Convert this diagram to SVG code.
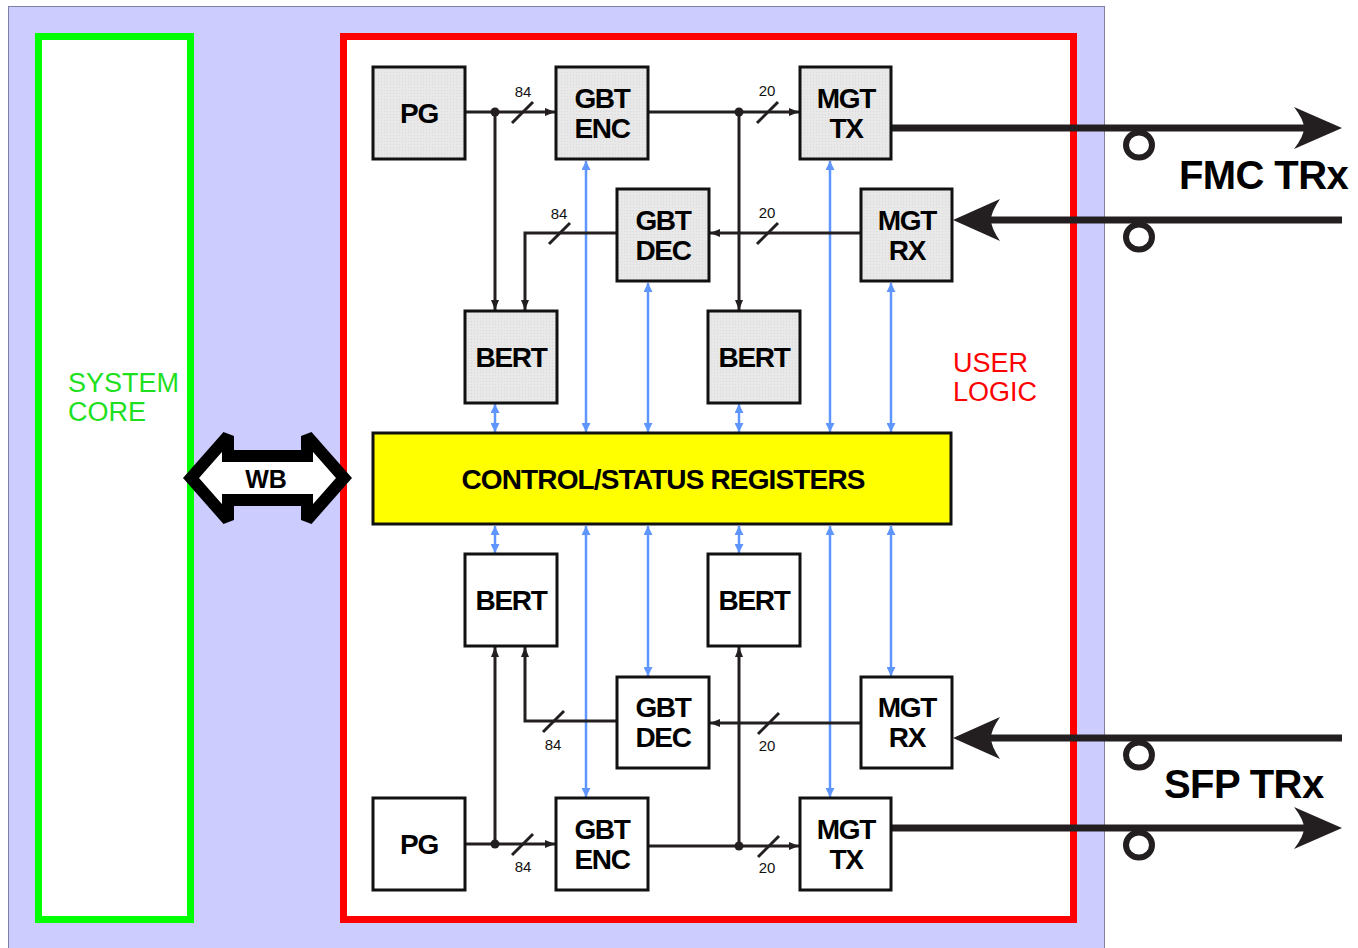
<svg xmlns="http://www.w3.org/2000/svg" width="1358" height="948" viewBox="0 0 1358 948">
<style>
text{font-family:"Liberation Sans",Arial,sans-serif}
.box{stroke:#111;stroke-width:3}
.g{fill:url(#dots)}
.w{fill:#fff}
.lbl{font-size:28px;font-weight:bold;letter-spacing:-1.3px;text-anchor:middle;fill:#000}
.num{font-size:15px;text-anchor:middle;fill:#111}
.ln{stroke:#231f20;stroke-width:3;fill:none}
.sl{stroke:#231f20;stroke-width:3}
.bl{stroke:#5f95ff;stroke-width:2.5;fill:none}
.big{stroke:#231f20;stroke-width:7;fill:none}
.head{fill:#231f20}
.ring{fill:none;stroke:#231f20;stroke-width:6}
.trx{font-size:40px;font-weight:bold;letter-spacing:-0.6px;fill:#000}
</style>
<defs>
<pattern id="dots" width="3" height="3" patternUnits="userSpaceOnUse">
<rect width="3" height="3" fill="#e8e8e8"/>
<rect width="1" height="1" fill="#dadada"/>
</pattern>
<marker id="ah" viewBox="0 0 10 8" refX="10" refY="4" markerWidth="10" markerHeight="8" markerUnits="userSpaceOnUse" orient="auto">
<path d="M0,0 L10,4 L0,8 z" fill="#231f20"/>
</marker>
<marker id="bh" viewBox="0 0 9 9" refX="9" refY="4.5" markerWidth="9" markerHeight="9" markerUnits="userSpaceOnUse" orient="auto-start-reverse">
<path d="M0,0 L9,4.5 L0,9 z" fill="#5f95ff"/>
</marker>
</defs>

<rect x="8.5" y="6.5" width="1096" height="950" fill="#ccccff" stroke="#8080a0" stroke-width="1"/>

<g id="system-core">
<rect x="38.5" y="36.5" width="152" height="883" fill="#fff" stroke="#00ff00" stroke-width="7"/>
<text x="68" y="392" font-size="27" fill="#1ee01e">SYSTEM</text>
<text x="68" y="421" font-size="27" fill="#1ee01e">CORE</text>
</g>

<g id="user-logic">
<rect x="343.5" y="36.5" width="730" height="883" fill="#fff" stroke="#ff0000" stroke-width="7"/>
<text x="953" y="372" font-size="27" fill="#ff0000">USER</text>
<text x="953" y="401" font-size="27" fill="#ff0000">LOGIC</text>
</g>

<g id="wb">
<polygon points="191,478 228,436 228,456 307,456 307,436 344,478 307,520 307,500 228,500 228,520" fill="#fff" stroke="#000" stroke-width="12" stroke-linejoin="miter" stroke-miterlimit="2"/>
<text x="266" y="488" font-size="25" font-weight="bold" text-anchor="middle" fill="#000">WB</text>
</g>

<g id="connectors">
<line class="bl" x1="495" y1="404" x2="495" y2="432" marker-start="url(#bh)" marker-end="url(#bh)"/>
<line class="bl" x1="586" y1="161" x2="586" y2="432" marker-start="url(#bh)" marker-end="url(#bh)"/>
<line class="bl" x1="648" y1="283" x2="648" y2="432" marker-start="url(#bh)" marker-end="url(#bh)"/>
<line class="bl" x1="739" y1="404" x2="739" y2="432" marker-start="url(#bh)" marker-end="url(#bh)"/>
<line class="bl" x1="830" y1="161" x2="830" y2="432" marker-start="url(#bh)" marker-end="url(#bh)"/>
<line class="bl" x1="891" y1="283" x2="891" y2="432" marker-start="url(#bh)" marker-end="url(#bh)"/>
<line class="bl" x1="495" y1="526" x2="495" y2="553" marker-start="url(#bh)" marker-end="url(#bh)"/>
<line class="bl" x1="586" y1="526" x2="586" y2="797" marker-start="url(#bh)" marker-end="url(#bh)"/>
<line class="bl" x1="648" y1="526" x2="648" y2="676" marker-start="url(#bh)" marker-end="url(#bh)"/>
<line class="bl" x1="739" y1="526" x2="739" y2="553" marker-start="url(#bh)" marker-end="url(#bh)"/>
<line class="bl" x1="830" y1="526" x2="830" y2="797" marker-start="url(#bh)" marker-end="url(#bh)"/>
<line class="bl" x1="891" y1="526" x2="891" y2="676" marker-start="url(#bh)" marker-end="url(#bh)"/>

<line class="ln" x1="466" y1="112" x2="555" y2="112" marker-end="url(#ah)"/>
<line class="ln" x1="495" y1="112" x2="495" y2="310" marker-end="url(#ah)"/>
<circle cx="495" cy="112" r="4.5" fill="#231f20"/>
<line class="sl" x1="512" y1="123" x2="533" y2="102"/>
<text class="num" x="523" y="97">84</text>

<line class="ln" x1="649" y1="112" x2="799" y2="112" marker-end="url(#ah)"/>
<line class="ln" x1="739" y1="112" x2="739" y2="310" marker-end="url(#ah)"/>
<circle cx="739" cy="112" r="4.5" fill="#231f20"/>
<line class="sl" x1="757" y1="123" x2="778" y2="102"/>
<text class="num" x="767" y="96">20</text>

<line class="ln" x1="861" y1="233" x2="710" y2="233" marker-end="url(#ah)"/>
<line class="sl" x1="757" y1="244" x2="778" y2="223"/>
<text class="num" x="767" y="218">20</text>

<polyline class="ln" points="617,233 525,233 525,310" marker-end="url(#ah)"/>
<line class="sl" x1="549" y1="244" x2="570" y2="223"/>
<text class="num" x="559" y="219">84</text>

<line class="ln" x1="466" y1="844" x2="555" y2="844" marker-end="url(#ah)"/>
<line class="ln" x1="495" y1="844" x2="495" y2="647" marker-end="url(#ah)"/>
<circle cx="495" cy="844" r="4.5" fill="#231f20"/>
<line class="sl" x1="512" y1="855" x2="533" y2="834"/>
<text class="num" x="523" y="872">84</text>

<line class="ln" x1="649" y1="846" x2="799" y2="846" marker-end="url(#ah)"/>
<line class="ln" x1="739" y1="846" x2="739" y2="647" marker-end="url(#ah)"/>
<circle cx="739" cy="846" r="4.5" fill="#231f20"/>
<line class="sl" x1="758" y1="857" x2="779" y2="836"/>
<text class="num" x="767" y="873">20</text>

<line class="ln" x1="861" y1="723" x2="710" y2="723" marker-end="url(#ah)"/>
<line class="sl" x1="758" y1="734" x2="779" y2="713"/>
<text class="num" x="767" y="751">20</text>

<polyline class="ln" points="617,721 525,721 525,647" marker-end="url(#ah)"/>
<line class="sl" x1="543" y1="732" x2="564" y2="711"/>
<text class="num" x="553" y="750">84</text>

<line class="big" x1="892" y1="128" x2="1305" y2="128"/>
<path class="head" d="M1342,128 L1294,107 Q1304,120 1304,128 Q1304,136 1294,149 Z"/>
<ellipse class="ring" cx="1139" cy="145" rx="13" ry="12.5"/>
<line class="big" x1="990" y1="220" x2="1342" y2="220"/>
<path class="head" d="M953,220 L1000,199 Q991,212 991,220 Q991,228 1000,241 Z"/>
<ellipse class="ring" cx="1139" cy="237" rx="13" ry="12.5"/>

<line class="big" x1="990" y1="738" x2="1342" y2="738"/>
<path class="head" d="M953,738 L1000,717 Q991,730 991,738 Q991,746 1000,759 Z"/>
<ellipse class="ring" cx="1139" cy="755" rx="13" ry="12.5"/>
<line class="big" x1="892" y1="828" x2="1305" y2="828"/>
<path class="head" d="M1342,828 L1294,807 Q1304,820 1304,828 Q1304,836 1294,849 Z"/>
<ellipse class="ring" cx="1139" cy="845" rx="13" ry="12.5"/>
</g>

<text class="trx" x="1179" y="189">FMC TRx</text>
<text class="trx" x="1164" y="798">SFP TRx</text>

<g id="pg-top"><rect class="box g" x="373" y="67" width="92" height="92"/><text class="lbl" x="419" y="123">PG</text></g>
<g id="gbt-enc-top"><rect class="box g" x="556" y="67" width="92" height="92"/><text class="lbl" x="602" y="108">GBT</text><text class="lbl" x="602" y="138">ENC</text></g>
<g id="mgt-tx-top"><rect class="box g" x="800" y="67" width="91" height="92"/><text class="lbl" x="846" y="108">MGT</text><text class="lbl" x="846" y="138">TX</text></g>
<g id="gbt-dec-top"><rect class="box g" x="617" y="189" width="92" height="92"/><text class="lbl" x="663" y="230">GBT</text><text class="lbl" x="663" y="260">DEC</text></g>
<g id="mgt-rx-top"><rect class="box g" x="861" y="189" width="91" height="92"/><text class="lbl" x="907" y="230">MGT</text><text class="lbl" x="907" y="260">RX</text></g>
<g id="bert-top-left"><rect class="box g" x="465" y="311" width="92" height="92"/><text class="lbl" x="511" y="367">BERT</text></g>
<g id="bert-top-right"><rect class="box g" x="708" y="311" width="92" height="92"/><text class="lbl" x="754" y="367">BERT</text></g>

<g id="registers"><rect x="373" y="433" width="578" height="91" fill="#ffff00" stroke="#111" stroke-width="3"/><text x="663" y="489" font-size="28" font-weight="bold" letter-spacing="-0.85" text-anchor="middle" fill="#000">CONTROL/STATUS REGISTERS</text></g>

<g id="bert-bottom-left"><rect class="box w" x="465" y="554" width="92" height="92"/><text class="lbl" x="511" y="610">BERT</text></g>
<g id="bert-bottom-right"><rect class="box w" x="708" y="554" width="92" height="92"/><text class="lbl" x="754" y="610">BERT</text></g>
<g id="gbt-dec-bottom"><rect class="box w" x="617" y="677" width="92" height="91"/><text class="lbl" x="663" y="717">GBT</text><text class="lbl" x="663" y="747">DEC</text></g>
<g id="mgt-rx-bottom"><rect class="box w" x="861" y="677" width="91" height="91"/><text class="lbl" x="907" y="717">MGT</text><text class="lbl" x="907" y="747">RX</text></g>
<g id="pg-bottom"><rect class="box w" x="373" y="798" width="92" height="92"/><text class="lbl" x="419" y="854">PG</text></g>
<g id="gbt-enc-bottom"><rect class="box w" x="556" y="798" width="92" height="92"/><text class="lbl" x="602" y="839">GBT</text><text class="lbl" x="602" y="869">ENC</text></g>
<g id="mgt-tx-bottom"><rect class="box w" x="800" y="798" width="91" height="92"/><text class="lbl" x="846" y="839">MGT</text><text class="lbl" x="846" y="869">TX</text></g>
</svg>
